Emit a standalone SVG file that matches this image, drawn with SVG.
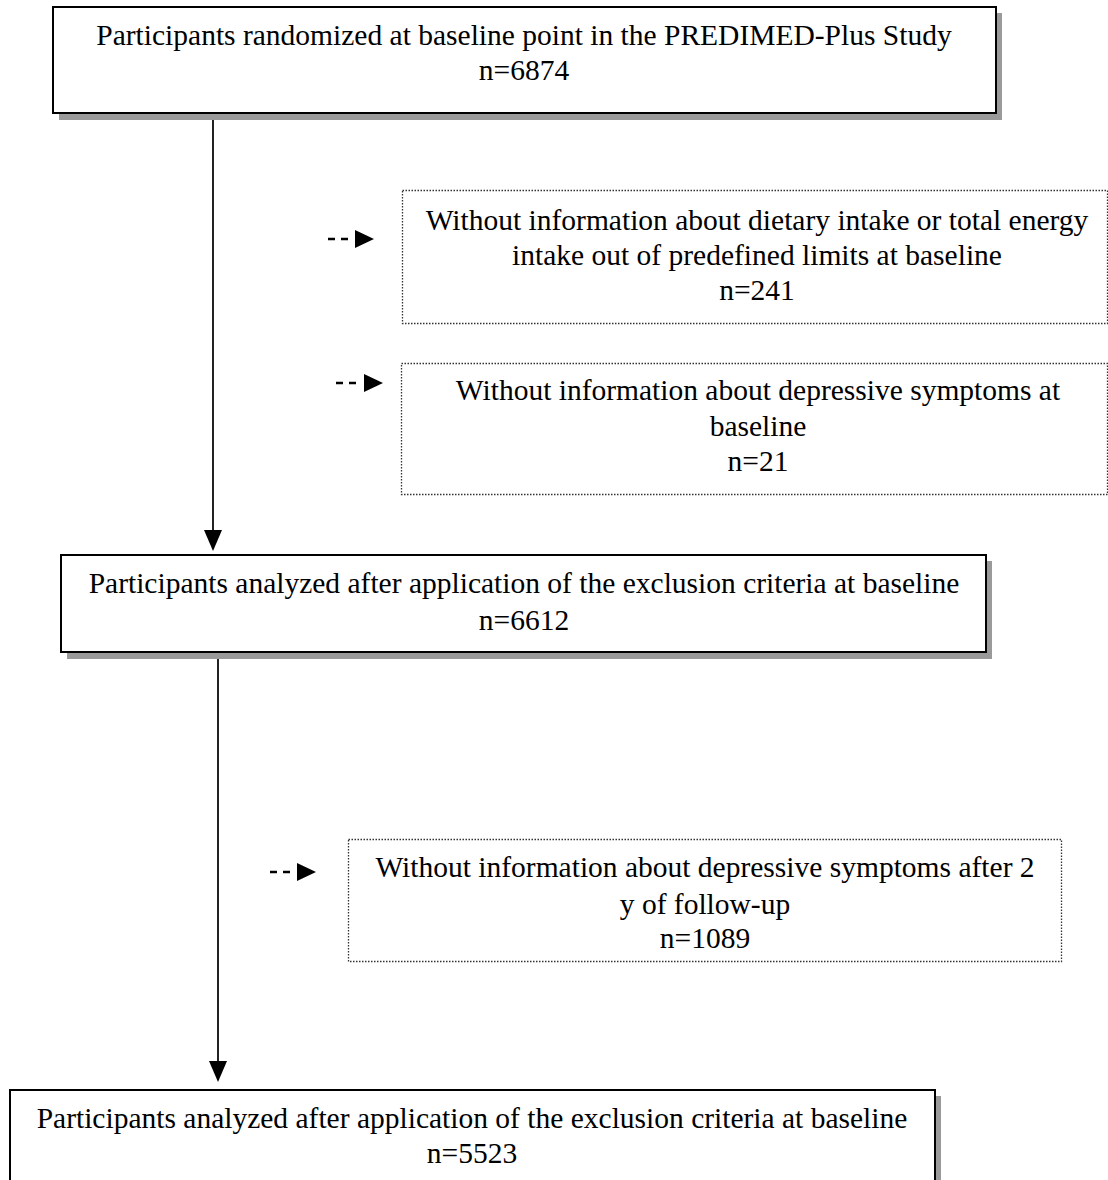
<svg xmlns="http://www.w3.org/2000/svg" width="1108" height="1180" viewBox="0 0 1108 1180">
<style>
text{font-family:"Liberation Serif","Times New Roman",serif;font-size:29.5px;fill:#000;text-anchor:middle}
.box{fill:#fff;stroke:#000;stroke-width:2}
.shadow{fill:#9a9a9a}
.dot{fill:#fff;stroke:#333;stroke-width:1.3;stroke-dasharray:1.5 1.5}
.line{stroke:#222;stroke-width:2;fill:none}
.dash{stroke:#000;stroke-width:2.5;fill:none;stroke-dasharray:7 6}
</style>
<rect width="1108" height="1180" fill="#fff"/>
<g id="connectors">
<line class="line" x1="213" y1="113" x2="213" y2="532"/>
<polygon points="204,530 222,530 213,551"/>
<line class="line" x1="218" y1="652" x2="218" y2="1063"/>
<polygon points="209,1061 227,1061 218,1082"/>
<line class="dash" x1="328" y1="239" x2="348" y2="239"/>
<polygon points="355,230 374,239 355,248"/>
<line class="dash" x1="336" y1="383" x2="356" y2="383"/>
<polygon points="364,374 383,383 364,392"/>
<line class="dash" x1="270" y1="872" x2="290" y2="872"/>
<polygon points="297,863 316,872 297,881"/>
</g>
<g id="n1">
<rect class="shadow" x="59" y="13" width="943" height="107"/>
<rect class="box" x="53" y="7" width="943" height="106"/>
<text x="524" y="45">Participants randomized at baseline point in the PREDIMED-Plus Study</text>
<text x="524" y="80">n=6874</text>
</g>
<g id="n2">
<rect class="dot" x="402.5" y="190.5" width="705" height="133"/>
<text x="757" y="230">Without information about dietary intake or total energy</text>
<text x="757" y="265">intake out of predefined limits at baseline</text>
<text x="757" y="300">n=241</text>
</g>
<g id="n3">
<rect class="dot" x="401.5" y="363.5" width="706" height="131"/>
<text x="758" y="400">Without information about depressive symptoms at</text>
<text x="758" y="436">baseline</text>
<text x="758" y="471">n=21</text>
</g>
<g id="n4">
<rect class="shadow" x="67" y="561" width="925" height="98"/>
<rect class="box" x="61" y="555" width="925" height="97"/>
<text x="524" y="593">Participants analyzed after application of the exclusion criteria at baseline</text>
<text x="524" y="630">n=6612</text>
</g>
<g id="n5">
<rect class="dot" x="348.5" y="839.5" width="713" height="122"/>
<text x="705" y="877">Without information about depressive symptoms after 2</text>
<text x="705" y="914">y of follow-up</text>
<text x="705" y="948">n=1089</text>
</g>
<g id="n6">
<rect class="shadow" x="16" y="1096" width="925" height="100"/>
<rect class="box" x="10" y="1090" width="925" height="100"/>
<text x="472" y="1128">Participants analyzed after application of the exclusion criteria at baseline</text>
<text x="472" y="1163">n=5523</text>
</g>
</svg>
